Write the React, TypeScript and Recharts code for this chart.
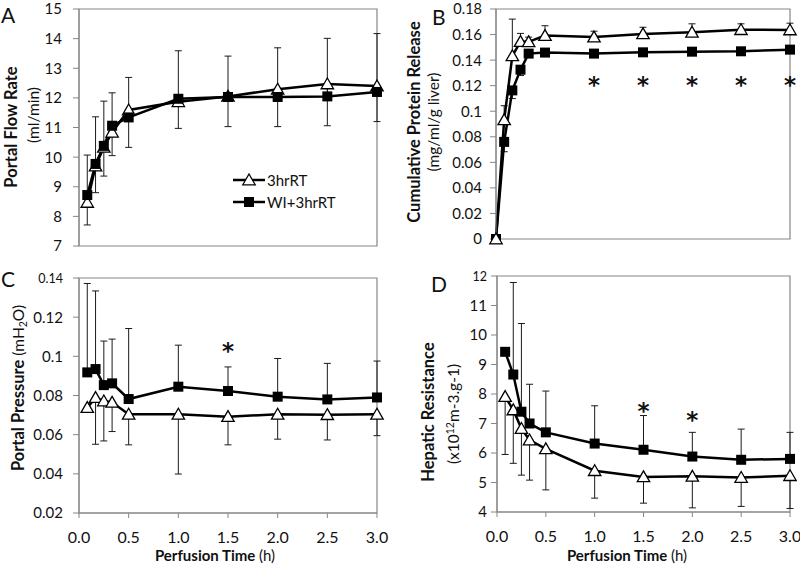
import React from 'react';
import { LineChart, Line, XAxis, YAxis, ErrorBar, ReferenceArea, ReferenceDot, Legend } from 'recharts';

// ---------- data ----------
const seriesNames = ['3hrRT', 'WI+3hrRT'];
const times = [0.0833, 0.1667, 0.25, 0.3333, 0.5, 1, 1.5, 2, 2.5, 3];
const timesB = [0, 0.0833, 0.1667, 0.25, 0.3333, 0.5, 1, 1.5, 2, 2.5, 3];
const xTicks = [0, 0.5, 1, 1.5, 2, 2.5, 3];

// A: Portal flow rate (ml/min)
const flowRT = [8.47, 9.7, 10.33, 10.84, 11.59, 11.87, 12.05, 12.29, 12.47, 12.4];
const flowWI = [8.72, 9.77, 10.38, 11.06, 11.34, 11.97, 12.03, 12.03, 12.05, 12.2];
const flowRTdown = [0.76, 0.9, 0.97, 0.79, 1.26, 0.9, 1.02, 1.26, 1.41, 1.2];
const flowWIup = [1.35, 1.59, 1.51, 1.11, 1.35, 1.62, 1.38, 1.66, 1.96, 1.97];
const flowTicks = [7, 8, 9, 10, 11, 12, 13, 14, 15];

// B: Cumulative protein release (mg/ml/g liver)
const protRT = [0, 0.0932, 0.1433, 0.1545, 0.1543, 0.1592, 0.158, 0.1605, 0.1618, 0.1638, 0.1636];
const protWI = [0, 0.076, 0.1163, 0.1325, 0.1451, 0.1459, 0.1451, 0.1461, 0.1466, 0.1469, 0.1482];
const protRTup = [null, 0.0111, 0.0288, 0.0064, 0.0037, 0.0077, 0.0046, 0.0052, 0.0066, 0.0046, 0.0053];
const protWIdown = [null, 0.0077, 0.0064, 0.0045, 0.002, 0.002, 0.002, 0.002, 0.002, 0.002, 0.002];
const protTicks = [0, 0.02, 0.04, 0.06, 0.08, 0.1, 0.12, 0.14, 0.16, 0.18];
const starsB = [1, 1.5, 2, 2.5, 3];
const starsBY = [0.125, 0.125, 0.125, 0.125, 0.125];

// C: Portal pressure (mH2O)
const presRT = [0.0738, 0.0789, 0.0772, 0.0765, 0.0704, 0.0704, 0.0692, 0.0704, 0.0702, 0.0704];
const presWI = [0.0918, 0.0935, 0.0853, 0.0862, 0.0782, 0.0845, 0.0823, 0.0794, 0.078, 0.079];
const presRTdown = [null, 0.0238, 0.0204, 0.0149, 0.0156, 0.0305, 0.0144, 0.0127, 0.0129, 0.0109];
const presWIup = [0.0454, 0.0399, 0.0225, 0.0226, 0.036, 0.0212, 0.0123, 0.0195, 0.0184, 0.0186];
const presTicks = [0.02, 0.04, 0.06, 0.08, 0.1, 0.12, 0.14];
const starsC = [1.5];
const starsCY = [0.1054];

// D: Hepatic resistance (x10^12 m-3.g-1)
const resRT = [7.91, 7.46, 6.83, 6.44, 6.14, 5.4, 5.19, 5.21, 5.17, 5.23];
const resWI = [9.43, 8.66, 7.4, 7.0, 6.7, 6.32, 6.11, 5.88, 5.77, 5.8];
const resRTdown = [1.96, 1.81, 1.58, 1.36, 1.39, 0.93, 0.89, 1.07, 0.98, 1.11];
const resWIup = [null, 3.12, 2.99, 1.33, 1.4, 1.28, 1.16, 0.82, 1.04, 0.9];
const resTicks = [4, 5, 6, 7, 8, 9, 10, 11, 12];
const starsD = [1.5, 2];
const starsDY = [7.6, 7.32];

// ---------- helpers ----------
const FONT = 'Lato, "Open Sans", sans-serif';
const AXIS = '#868686';
const INK = '#111';

function rows(t: number[], rt: number[], wi: number[], rtLo: (number | null)[] | null, rtHi: (number | null)[] | null, wiLo: (number | null)[] | null, wiHi: (number | null)[] | null) {
  return t.map((x, i) => {
    const rtE = rtLo ? rtLo[i] : rtHi ? rtHi[i] : null;
    const wiE = wiLo ? wiLo[i] : wiHi ? wiHi[i] : null;
    return {
      t: x,
      rt: rt[i],
      wi: wi[i],
      rtErr: rtE == null ? null : rtLo ? [rtE, 0] : [0, rtE],
      wiErr: wiE == null ? null : wiLo ? [wiE, 0] : [0, wiE],
    };
  });
}

const Tri = (p: any) => {
  const { cx, cy, index } = p;
  if (cx == null || cy == null) return <g key={`t${index}`} />;
  return (
    <path key={`t${index}`} d={`M${cx},${cy - 6} L${cx + 6.2},${cy + 4.8} L${cx - 6.2},${cy + 4.8} Z`} fill="#fff" stroke="#000" strokeWidth={1.3} />
  );
};
const Sq = (p: any) => {
  const { cx, cy, index } = p;
  if (cx == null || cy == null) return <g key={`s${index}`} />;
  return <rect key={`s${index}`} x={cx - 5} y={cy - 5} width={10} height={10} fill="#000" />;
};

const Star = (p: any) => {
  const { cx, cy } = p;
  return (
    <text x={cx} y={cy + 13.5} textAnchor="middle" fontSize={23} fontWeight="bold" fontFamily='"DejaVu Sans", sans-serif' fill={INK}>*</text>
  );
};

const LegendContent = () => (
  <div style={{ fontFamily: FONT, fontSize: 15, color: INK }}>
    {seriesNames.map((n, i) => (
      <div key={n} style={{ display: 'flex', alignItems: 'center', height: 22 }}>
        <svg width={32} height={22} style={{ display: 'block' }}>
          <line x1={0} y1={11} x2={32} y2={11} stroke="#000" strokeWidth={2.5} />
          {i === 0 ? (
            <path d="M16,5 L22.2,15.8 L9.8,15.8 Z" fill="#fff" stroke="#000" strokeWidth={1.3} />
          ) : (
            <rect x={11} y={6} width={10} height={10} fill="#000" />
          )}
        </svg>
        <span style={{ marginLeft: 2 }}>{n}</span>
      </div>
    ))}
  </div>
);

type PanelProps = {
  box: { left: number; top: number; width: number; height: number };
  margin: { top: number; right: number; bottom: number; left: number };
  data: any[];
  yDomain: [number, number];
  yTicks: number[];
  yTickMargin: number;
  yFont: number;
  smallTop?: boolean;
  topFont?: number;
  showX: boolean;
  rtOnTop?: boolean;
  stars?: number[];
  starsY?: number[];
  legend?: boolean;
};

const Panel = (pp: PanelProps) => {
  const { box, margin, data, yDomain, yTicks, yTickMargin, yFont, smallTop, topFont, showX, rtOnTop, stars, starsY, legend } = pp;
  const yTick = (p: any) => {
    const v = p.payload.value;
    const isTop = v === yTicks[yTicks.length - 1];
    const fs = isTop && smallTop ? 12.5 : isTop && topFont ? topFont : yFont;
    return (
      <text x={p.x} y={p.y} dy="0.36em" textAnchor="end" fontSize={fs} fontFamily={FONT} fill={INK}>
        {String(v)}
      </text>
    );
  };
  const rtLine = (
    <Line key="rt" type="linear" dataKey="rt" name={seriesNames[0]} stroke="#000" strokeWidth={2.5} dot={Tri} activeDot={false} isAnimationActive={false}>
      <ErrorBar dataKey="rtErr" width={3.5} stroke="#1a1a1a" strokeWidth={1} direction="y" isAnimationActive={false} />
    </Line>
  );
  const wiLine = (
    <Line key="wi" type="linear" dataKey="wi" name={seriesNames[1]} stroke="#000" strokeWidth={2.5} dot={Sq} activeDot={false} isAnimationActive={false}>
      <ErrorBar dataKey="wiErr" width={3.5} stroke="#1a1a1a" strokeWidth={1} direction="y" isAnimationActive={false} />
    </Line>
  );
  return (
    <div style={{ position: 'absolute', left: box.left, top: box.top, width: box.width, height: box.height }}>
      <LineChart width={box.width} height={box.height} data={data} margin={margin}>
        <XAxis
          dataKey="t"
          type="number"
          domain={[0, 3]}
          ticks={xTicks}
          interval={0}
          hide={!showX}
          height={30}
          tickSize={5}
          tickMargin={14}
          stroke={AXIS}
          tickFormatter={(v: number) => v.toFixed(1)}
          tick={{ fill: INK, fontSize: 16, fontFamily: FONT }}
        />
        <YAxis
          type="number"
          domain={yDomain}
          ticks={yTicks}
          interval={0}
          width={60}
          tickSize={6}
          tickMargin={yTickMargin}
          stroke={AXIS}
          tick={yTick}
        />
        <ReferenceArea x1={0} x2={3} y1={yDomain[0]} y2={yDomain[1]} fill="none" fillOpacity={0} stroke={AXIS} strokeWidth={1.2} ifOverflow="visible" />
        {rtOnTop ? [wiLine, rtLine] : [rtLine, wiLine]}
        {(stars || []).map((s, i) => (
          <ReferenceDot key={`st${i}`} x={s} y={(starsY || [])[i]} r={1} ifOverflow="visible" shape={Star} />
        ))}
        {legend ? (
          <Legend layout="vertical" align="center" verticalAlign="middle" wrapperStyle={{ left: 233, top: 169, width: 120 }} content={LegendContent} />
        ) : null}
      </LineChart>
    </div>
  );
};

const dataA = rows(times, flowRT, flowWI, flowRTdown, null, null, flowWIup);
const dataB = rows(timesB, protRT, protWI, null, protRTup, protWIdown, null);
const dataC = rows(times, presRT, presWI, presRTdown, null, null, presWIup);
const dataD = rows(times, resRT, resWI, resRTdown, null, null, resWIup);

const YT = 16.5;

export default function App() {
  return (
    <div style={{ position: 'absolute', left: 0, top: 0, width: 800, height: 566, background: '#fff', fontFamily: FONT, overflow: 'hidden' }}>
      <Panel
        box={{ left: 0, top: 0, width: 400, height: 270 }}
        margin={{ top: 9, right: 23, bottom: 24, left: 19 }}
        data={dataA}
        yDomain={[7, 15]}
        yTicks={flowTicks}
        yTickMargin={11}
        yFont={15}
        showX={false}
        legend
      />
      <Panel
        box={{ left: 400, top: 0, width: 400, height: 270 }}
        margin={{ top: 9, right: 10, bottom: 31, left: 36 }}
        data={dataB}
        yDomain={[0, 0.18]}
        yTicks={protTicks}
        yTickMargin={8}
        yFont={15}
        topFont={14.5}
        showX={false}
        rtOnTop
        stars={starsB}
        starsY={starsBY}
      />
      <Panel
        box={{ left: 0, top: 270, width: 400, height: 296 }}
        margin={{ top: 8, right: 23, bottom: 23, left: 19 }}
        data={dataC}
        yDomain={[0.02, 0.14]}
        yTicks={presTicks}
        yTickMargin={10}
        yFont={15}
        smallTop
        showX
        stars={starsC}
        starsY={starsCY}
      />
      <Panel
        box={{ left: 400, top: 270, width: 400, height: 296 }}
        margin={{ top: 6, right: 10, bottom: 24, left: 37 }}
        data={dataD}
        yDomain={[4, 12]}
        yTicks={resTicks}
        yTickMargin={4}
        yFont={15}
        smallTop
        showX
        stars={starsD}
        starsY={starsDY}
      />
      <svg width={800} height={566} style={{ position: 'absolute', left: 0, top: 0, pointerEvents: 'none' }} fontFamily={FONT} fill={INK}>
        {/* panel letters */}
        <text x={1} y={23} fontSize={21}>A</text>
        <text x={432} y={25} fontSize={21}>B</text>
        <text x={1} y={287} fontSize={21}>C</text>
        <text x={431} y={292} fontSize={21}>D</text>
        {/* A y title */}
        <text transform="translate(17,127) rotate(-90)" textAnchor="middle" fontSize={YT} fontWeight="bold">Portal Flow Rate</text>
        <text transform="translate(39,115) rotate(-90)" textAnchor="middle" fontSize={15.5}>(ml/min)</text>
        {/* B y title */}
        <text transform="translate(420,122) rotate(-90)" textAnchor="middle" fontSize={YT} fontWeight="bold">Cumulative Protein Release</text>
        <text transform="translate(439,122) rotate(-90)" textAnchor="middle" fontSize={15.5}>(mg/ml/g liver)</text>
        {/* C y title */}
        <text transform="translate(24,388) rotate(-90)" textAnchor="middle" fontSize={YT}>
          <tspan fontWeight="bold">Portal Pressure </tspan>
          <tspan fontSize={15.5}>(mH</tspan>
          <tspan fontSize={10.5} dy={3}>2</tspan>
          <tspan fontSize={15.5} dy={-3}>O)</tspan>
        </text>
        {/* D y title */}
        <text transform="translate(434,412) rotate(-90)" textAnchor="middle" fontSize={YT} fontWeight="bold">Hepatic Resistance</text>
        <text transform="translate(459,414) rotate(-90)" textAnchor="middle" fontSize={15.5}>
          <tspan>(x10</tspan>
          <tspan fontSize={10.5} dy={-5}>12</tspan>
          <tspan dy={5}>m-3.g-1)</tspan>
        </text>
        {/* x titles */}
        <text x={215} y={561} textAnchor="middle" fontSize={15}>
          <tspan fontWeight="bold">Perfusion Time </tspan>
          <tspan>(h)</tspan>
        </text>
        <text x={627} y={561} textAnchor="middle" fontSize={15}>
          <tspan fontWeight="bold">Perfusion Time </tspan>
          <tspan>(h)</tspan>
        </text>
      </svg>
    </div>
  );
}
